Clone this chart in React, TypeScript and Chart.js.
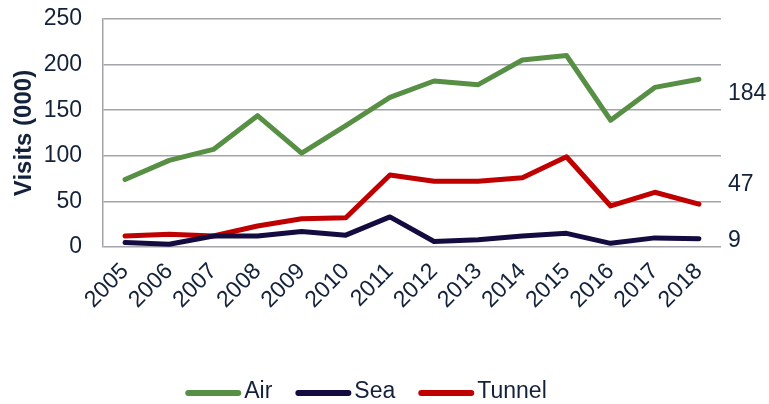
import React, { useEffect, useRef } from "react";
import { Chart, registerables } from "chart.js";

Chart.register(...registerables);

const years = ["2005", "2006", "2007", "2008", "2009", "2010", "2011", "2012", "2013", "2014", "2015", "2016", "2017", "2018"];
const air = [74, 95, 107, 144, 103, 133, 164, 182, 178, 205, 210, 139, 175, 184];
const sea = [5, 3, 12, 12, 17, 13, 33, 6, 8, 12, 15, 4, 10, 9];
const tunnel = [12, 14, 12, 23, 31, 32, 79, 72, 72, 76, 99, 45, 60, 47];
const yTicks = [0, 50, 100, 150, 200, 250];

const TEXT = "#13213a";
const GRID = "#a4a4ab";
const FONT = "'Liberation Sans', Arial, sans-serif";
const FS = 23;
const LEGEND_H = 36;

const endLabels = {
  id: "endLabels",
  afterDatasetsDraw(chart: any) {
    const ctx = chart.ctx;
    const offsets = [14, 2, -19];
    ctx.save();
    ctx.font = `${FS}px ${FONT}`;
    ctx.fillStyle = TEXT;
    ctx.textAlign = "left";
    ctx.textBaseline = "middle";
    chart.data.datasets.forEach((ds: any, i: number) => {
      const meta = chart.getDatasetMeta(i);
      const el = meta.data[meta.data.length - 1];
      const v = ds.data[ds.data.length - 1];
      ctx.fillText(String(v), chart.chartArea.right + 7, el.y + offsets[i]);
    });
    ctx.restore();
  },
};

const lineLegend = {
  id: "lineLegend",
  afterDraw(chart: any) {
    const ctx = chart.ctx;
    const boxW = 56;
    const gapText = 3;
    const gapItem = 23;
    ctx.save();
    ctx.font = `${FS}px ${FONT}`;
    const items = chart.data.datasets.map((ds: any) => ({
      label: ds.label,
      color: ds.borderColor,
      w: ctx.measureText(ds.label).width,
    }));
    const total =
      items.reduce((a: number, it: any) => a + boxW + gapText + it.w, 0) + gapItem * (items.length - 1);
    let x = 366 - total / 2;
    const y = chart.height - 12;
    items.forEach((it: any) => {
      ctx.strokeStyle = it.color;
      ctx.lineWidth = 6;
      ctx.lineCap = "round";
      ctx.beginPath();
      ctx.moveTo(x + 3, y + 1);
      ctx.lineTo(x + boxW - 3, y + 1);
      ctx.stroke();
      ctx.fillStyle = TEXT;
      ctx.textAlign = "left";
      ctx.textBaseline = "middle";
      ctx.fillText(it.label, x + boxW + gapText, y);
      x += boxW + gapText + it.w + gapItem;
    });
    ctx.restore();
  },
};

export default function App() {
  const ref = useRef<HTMLCanvasElement>(null);
  useEffect(() => {
    const chart = new Chart(ref.current!, {
      type: "line",
      data: {
        labels: years,
        datasets: [
          { label: "Air", data: air, borderColor: "#578f45", backgroundColor: "#578f45" },
          { label: "Sea", data: sea, borderColor: "#140c40", backgroundColor: "#140c40" },
          { label: "Tunnel", data: tunnel, borderColor: "#c00000", backgroundColor: "#c00000" },
        ],
      },
      options: {
        animation: false,
        responsive: false,
        maintainAspectRatio: false,
        layout: { padding: { left: 0, right: 48, top: 0, bottom: LEGEND_H } },
        elements: {
          line: { borderWidth: 5, tension: 0, borderCapStyle: "round", borderJoinStyle: "round" },
          point: { radius: 0, hoverRadius: 0 },
        },
        plugins: {
          tooltip: { enabled: false },
          legend: { display: false },
        },
        scales: {
          x: {
            offset: true,
            grid: { display: false, drawTicks: false },
            border: { display: false },
            ticks: {
              font: { family: FONT, size: FS },
              color: TEXT,
              minRotation: 45,
              maxRotation: 45,
              autoSkip: false,
              padding: 11,
            },
            afterFit: (s: any) => {
              s.height = 404 - LEGEND_H - 247;
            },
          },
          y: {
            min: 0,
            max: 250,
            afterBuildTicks: (s: any) => {
              s.ticks = yTicks.map((v) => ({ value: v }));
            },
            grid: { color: GRID, lineWidth: 1.5, drawTicks: false },
            border: { display: true, color: GRID, width: 1.5 },
            ticks: { font: { family: FONT, size: FS }, color: TEXT, padding: 21 },
            title: {
              display: true,
              text: "Visits (000)",
              font: { family: FONT, size: 24, weight: "bold" },
              color: TEXT,
              padding: { top: 10, bottom: 0 },
            },
            afterFit: (s: any) => {
              s.width = 103;
              s.paddingTop = 19;
              s.paddingBottom = 0;
            },
          },
        },
      },
      plugins: [endLabels, lineLegend],
    });
    return () => chart.destroy();
  }, []);
  return (
    <div style={{ position: "absolute", left: 0, top: 0, width: 769, height: 404 }}>
      <canvas ref={ref} width={769} height={404} style={{ width: 769, height: 404 }} />
    </div>
  );
}
